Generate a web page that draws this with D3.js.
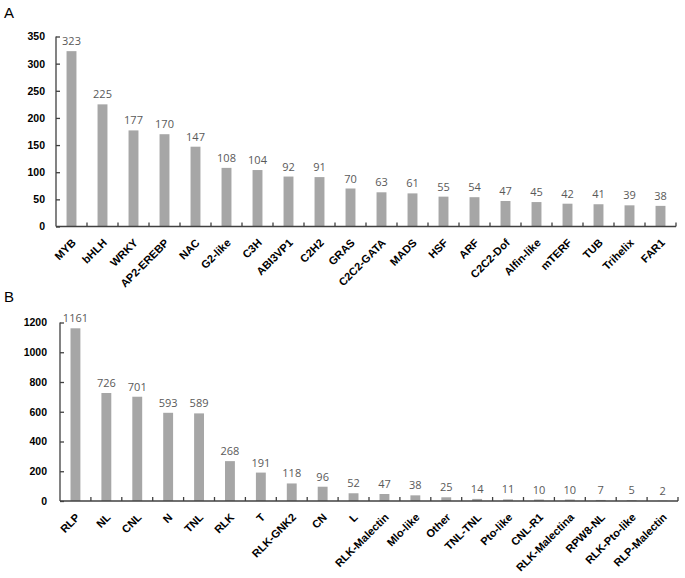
<!DOCTYPE html>
<html>
<head>
<meta charset="utf-8">
<script src="https://cdn.jsdelivr.net/npm/d3@7"></script>
<style>
  body { margin: 0; background: #fff; }
  .tick text { font-family: Arial, "Liberation Sans", sans-serif; font-weight: bold; fill: #000; }
  .val { font-family: "Open Sans", sans-serif; fill: #595959; }
</style>
</head>
<body>
<svg id="chart" width="685" height="578"></svg>
<script>
// panel A: transcription factor families
let tfFamilies = ["MYB", "bHLH", "WRKY", "AP2-EREBP", "NAC", "G2-like", "C3H", "ABI3VP1", "C2H2", "GRAS",
                  "C2C2-GATA", "MADS", "HSF", "ARF", "C2C2-Dof", "Alfin-like", "mTERF", "TUB", "Trihelix", "FAR1"];
let tfCounts = [323, 225, 177, 170, 147, 108, 104, 92, 91, 70, 63, 61, 55, 54, 47, 45, 42, 41, 39, 38];
let tfTicks = [0, 50, 100, 150, 200, 250, 300, 350];

// panel B: resistance gene classes
let rClasses = ["RLP", "NL", "CNL", "N", "TNL", "RLK", "T", "RLK-GNK2", "CN", "L", "RLK-Malectin", "Mlo-like",
                "Other", "TNL-TNL", "Pto-like", "CNL-R1", "RLK-Malectina", "RPW8-NL", "RLK-Pto-like", "RLP-Malectin"];
let rCounts = [1161, 726, 701, 593, 589, 268, 191, 118, 96, 52, 47, 38, 25, 14, 11, 10, 10, 7, 5, 2];
let rTicks = [0, 200, 400, 600, 800, 1000, 1200];

let svg = d3.select("#chart"),
    bar_color = "#a6a6a6",
    axis_color = "#404040";

function drawPanel(letter, letterY, cats, vals, ticks, box) {
    svg.append("text")
       .attr("x", 4).attr("y", letterY)
       .style("font-family", "Arial, 'Liberation Sans', sans-serif")
       .style("font-size", "15px")
       .text(letter);

    let x = d3.scaleBand().domain(cats).range([box.left, box.right]).paddingInner(0.68).paddingOuter(0.34);
    let y = d3.scaleLinear().domain([0, d3.max(ticks)]).range([box.bottom, box.top]);

    let g = svg.append("g");

    g.selectAll("rect.bar")
     .data(cats)
     .enter().append("rect")
     .attr("class", "bar")
     .attr("x", d => x(d))
     .attr("width", x.bandwidth())
     .attr("y", (d, i) => y(vals[i]))
     .attr("height", (d, i) => box.bottom - y(vals[i]))
     .attr("fill", bar_color);

    g.selectAll("text.val")
     .data(cats)
     .enter().append("text")
     .attr("class", "val")
     .attr("x", d => x(d) + x.bandwidth() / 2)
     .attr("y", (d, i) => y(vals[i]) - 6)
     .attr("text-anchor", "middle")
     .style("font-size", "11px")
     .text((d, i) => vals[i]);

    // y axis, ticks pointing inwards
    let yAxis = g.append("g")
     .attr("transform", "translate(" + box.left + ",0)")
     .call(d3.axisLeft(y).tickValues(ticks).tickFormat(d3.format("d")).tickSize(-4).tickPadding(box.yPad));
    yAxis.select(".domain").attr("d", "M0," + y(d3.max(ticks)) + "V" + box.bottom);
    yAxis.selectAll("path, line").attr("stroke", axis_color).attr("stroke-width", 1.3);
    yAxis.selectAll("text").style("font-size", box.yFont);

    // x axis line with inward ticks between categories
    let step = x.step();
    g.append("line")
     .attr("x1", box.left).attr("x2", box.right)
     .attr("y1", box.bottom).attr("y2", box.bottom)
     .attr("stroke", axis_color).attr("stroke-width", 1.3);
    g.selectAll("line.xt")
     .data(d3.range(1, cats.length + 1))
     .enter().append("line")
     .attr("x1", i => box.left + i * step).attr("x2", i => box.left + i * step)
     .attr("y1", box.bottom).attr("y2", box.bottom - 4)
     .attr("stroke", axis_color).attr("stroke-width", 1.3);

    g.selectAll("text.xl")
     .data(cats)
     .enter().append("text")
     .attr("class", "xl")
     .attr("x", d => x(d) + x.bandwidth() / 2 + 5)
     .attr("y", box.bottom + 17)
     .attr("transform", d => "rotate(-45," + (x(d) + x.bandwidth() / 2 + 5) + "," + (box.bottom + 17) + ")")
     .attr("text-anchor", "end")
     .style("font-family", "Arial, 'Liberation Sans', sans-serif")
     .style("font-weight", "bold")
     .style("font-size", "11px")
     .text(d => d);
}

drawPanel("A", 18, tfFamilies, tfCounts, tfTicks, {left: 56, right: 676, top: 36.5, bottom: 226.5, yFont: "10.5px", yPad: 11});
drawPanel("B", 302, rClasses, rCounts, rTicks, {left: 60, right: 678, top: 322.5, bottom: 501, yFont: "10.5px", yPad: 13});
</script>
</body>
</html>
